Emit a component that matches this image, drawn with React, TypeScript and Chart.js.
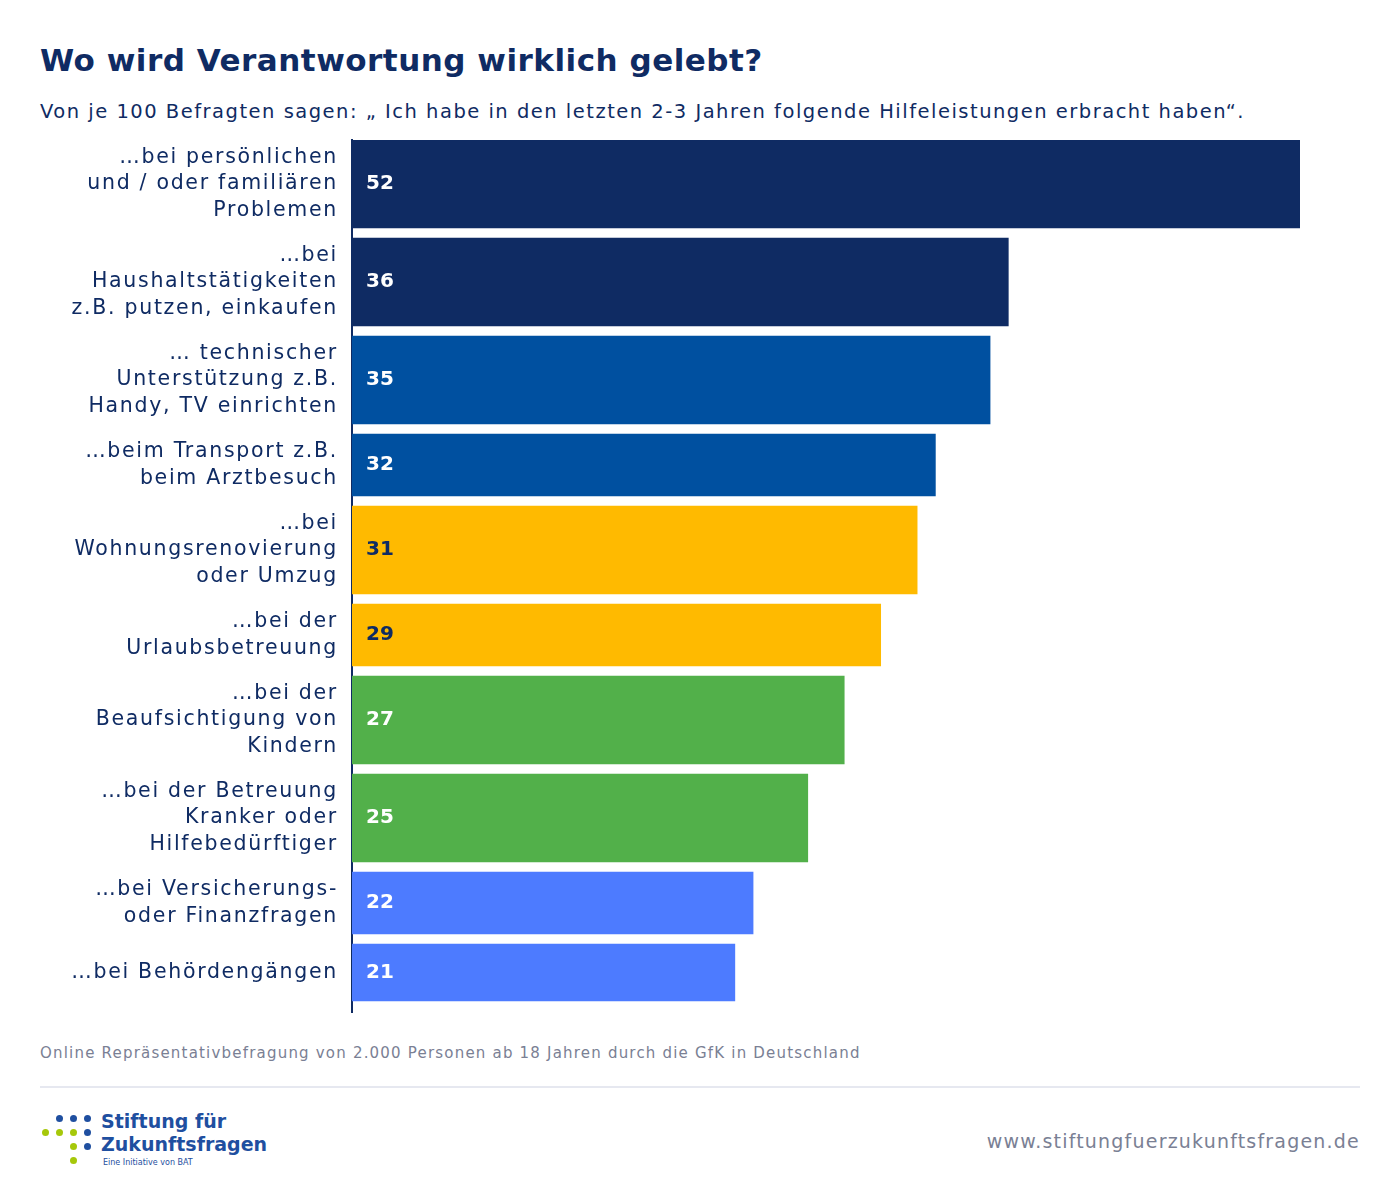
import React, { useEffect, useRef } from "react";
import { Chart, registerables } from "chart.js";
Chart.register(...registerables);

const categories: string[][] = [
  ["…bei persönlichen", "und / oder familiären", "Problemen"],
  ["…bei", "Haushaltstätigkeiten", "z.B. putzen, einkaufen"],
  ["… technischer", "Unterstützung z.B.", "Handy, TV einrichten"],
  ["…beim Transport z.B.", "beim Arztbesuch"],
  ["…bei", "Wohnungsrenovierung", "oder Umzug"],
  ["…bei der", "Urlaubsbetreuung"],
  ["…bei der", "Beaufsichtigung von", "Kindern"],
  ["…bei der Betreuung", "Kranker oder", "Hilfebedürftiger"],
  ["…bei Versicherungs-", "oder Finanzfragen"],
  ["…bei Behördengängen"],
];
const values = [52, 36, 35, 32, 31, 29, 27, 25, 22, 21];
const colors = ["#0f2b63", "#0f2b63", "#0050a0", "#0050a0", "#ffba00", "#ffba00", "#52b04a", "#52b04a", "#4d7bff", "#4d7bff"];
const valueColors = ["#fff", "#fff", "#fff", "#fff", "#0f2b63", "#0f2b63", "#fff", "#fff", "#fff", "#fff"];
const thickness = [88, 88, 88, 62, 88, 62, 88, 88, 62, 57];
const GAP = 10;

const centers: number[] = [];
{
  let pos = 0;
  thickness.forEach((t) => { centers.push(pos + t / 2); pos += t + GAP; });
}
const FONT = "'DejaVu Sans', sans-serif";
const NAVY = "#0f2b63";

export default function App() {
  const ref = useRef<HTMLCanvasElement>(null);
  useEffect(() => {
    const spacingPlugin = {
      id: "spacing",
      beforeLayout(chart: any) { chart.ctx.letterSpacing = "1.7px"; },
      beforeDraw(chart: any) { chart.ctx.letterSpacing = "1.7px"; },
    };
    const valuePlugin = {
      id: "vals",
      afterDatasetsDraw(chart: any) {
        const ctx = chart.ctx;
        ctx.save();
        ctx.letterSpacing = "0px";
        ctx.font = `bold 20px ${FONT}`;
        ctx.textBaseline = "middle";
        chart.data.datasets.forEach((ds: any, i: number) => {
          const el = chart.getDatasetMeta(i).data[0];
          ctx.fillStyle = valueColors[i];
          ctx.fillText(String(values[i]), el.base + 14, el.y);
        });
        ctx.restore();
      },
    };
    const chart = new Chart(ref.current!, {
      type: "bar",
      data: {
        datasets: values.map((v, i) => ({
          data: [{ x: v, y: centers[i] }],
          backgroundColor: colors[i],
          barThickness: thickness[i],
          grouped: false,
        })) as any,
      },
      options: {
        indexAxis: "y",
        animation: false,
        responsive: false,
        layout: { padding: { top: 10, bottom: 8, left: 0, right: 100 } },
        plugins: { legend: { display: false }, tooltip: { enabled: false } },
        scales: {
          x: { type: "linear", min: 0, max: 52, display: false },
          y: {
            type: "linear",
            min: 0,
            max: 872,
            offset: false,
            reverse: true,
            grid: { display: false },
            border: { display: true, color: NAVY, width: 2 },
            afterBuildTicks: (s: any) => { s.ticks = centers.map((c) => ({ value: c })); },
            afterFit: (s: any) => { s.width = 352; s.paddingTop = 0; s.paddingBottom = 0; },
            ticks: {
              padding: 6,
              color: NAVY,
              font: { family: FONT, size: 20.5, lineHeight: 1.3 },
              callback: (v: any) => {
                const i = centers.indexOf(Number(v));
                return i >= 0 ? categories[i] : "";
              },
            },
          },
        },
      },
      plugins: [spacingPlugin, valuePlugin],
    } as any);
    return () => chart.destroy();
  }, []);

  return (
    <div style={{ position: "relative", width: 1400, height: 1197, margin: -8, background: "#fff", fontFamily: FONT, color: NAVY }}>
      <div style={{ position: "absolute", left: 40, top: 42, fontSize: 31, fontWeight: 700, letterSpacing: 0.5 }}>Wo wird Verantwortung wirklich gelebt?</div>
      <div style={{ position: "absolute", left: 40, top: 100, fontSize: 19.5, letterSpacing: 1.5 }}>
        Von je 100 Befragten sagen: „ Ich habe in den letzten 2-3 Jahren folgende Hilfeleistungen erbracht haben“.
      </div>
      <canvas ref={ref} width={1400} height={890} style={{ position: "absolute", left: 0, top: 130 }} />
      <div style={{ position: "absolute", left: 40, top: 1044, fontSize: 15, color: "#7a8094", letterSpacing: 1.2 }}>
        Online Repräsentativbefragung von 2.000 Personen ab 18 Jahren durch die GfK in Deutschland
      </div>
      <div style={{ position: "absolute", left: 40, top: 1086, width: 1320, height: 2, background: "#e6e8f0" }} />
      <div style={{ position: "absolute", left: 42, top: 1115, width: 52, height: 50 }}>
        {[[14,0,"#1f4fa0"],[28,0,"#1f4fa0"],[42,0,"#1f4fa0"],[0,14,"#a6c80a"],[14,14,"#a6c80a"],[28,14,"#a6c80a"],[42,14,"#1f4fa0"],[28,28,"#a6c80a"],[42,28,"#1f4fa0"],[28,42,"#a6c80a"]].map(([x,y,c],i)=>(
          <div key={i} style={{ position: "absolute", left: x as number, top: y as number, width: 7, height: 7, borderRadius: 4, background: c as string }} />
        ))}
      </div>
      <div style={{ position: "absolute", left: 101, top: 1110, fontSize: 19, fontWeight: 700, color: "#1f4fa0", lineHeight: "23px" }}>
        Stiftung für<br />Zukunftsfragen
      </div>
      <div style={{ position: "absolute", left: 103, top: 1158, fontSize: 8, color: "#1f4fa0" }}>Eine Initiative von BAT</div>
      <div style={{ position: "absolute", right: 40, top: 1130, fontSize: 19, color: "#7a8094", letterSpacing: 1.2 }}>www.stiftungfuerzukunftsfragen.de</div>
    </div>
  );
}
